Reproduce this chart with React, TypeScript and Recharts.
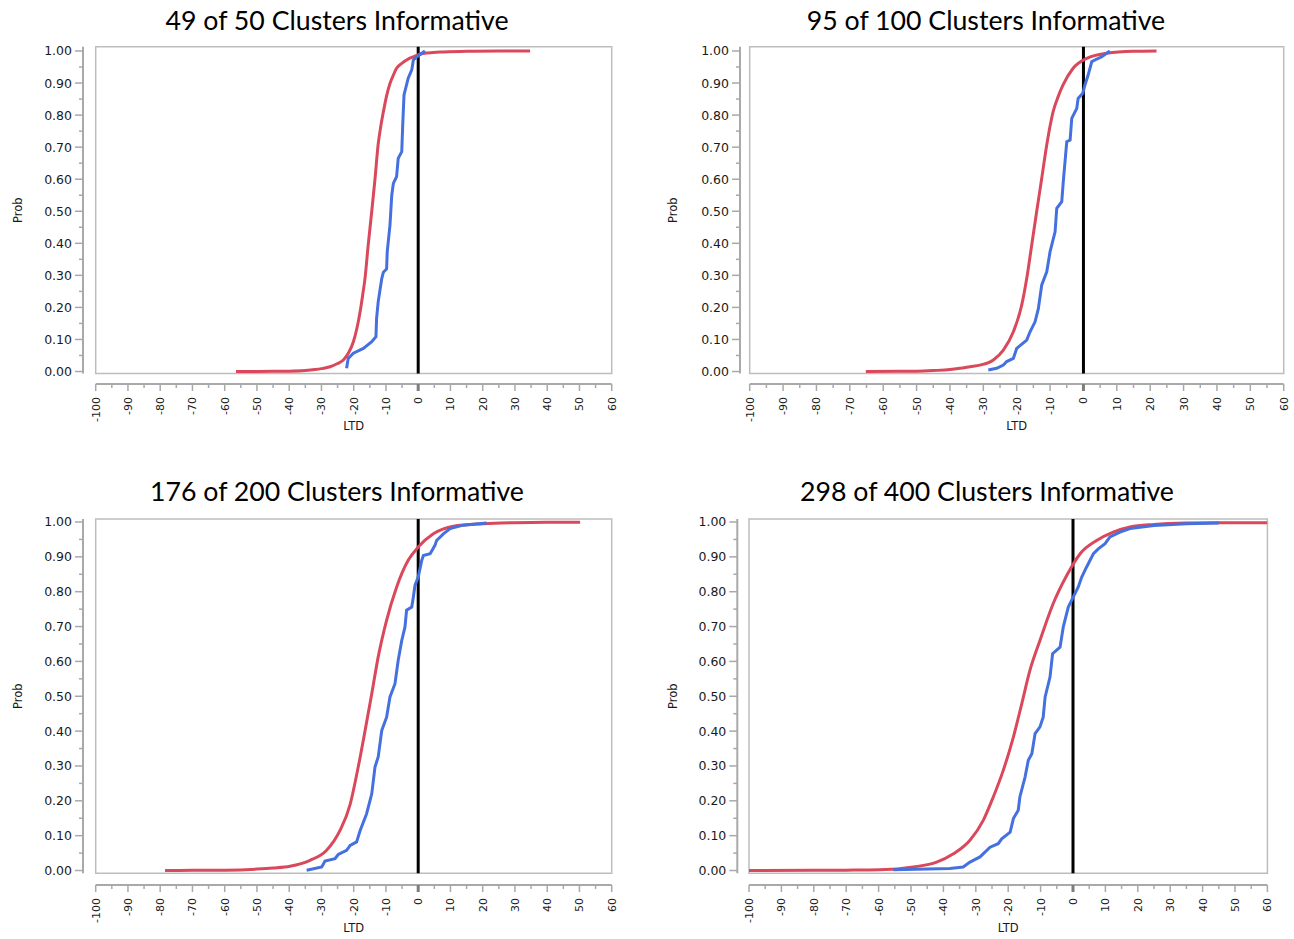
import { LineChart, Line, XAxis, YAxis, ReferenceLine, ReferenceArea, Label } from "recharts"

// tick values (minor ticks every 5 / 0.05, labels on every 10 / 0.10)
const xTicks = [
  -100, -95, -90, -85, -80, -75, -70, -65, -60, -55, -50, -45, -40, -35, -30, -25, -20, -15, -10, -5, 0,
  5, 10, 15, 20, 25, 30, 35, 40, 45, 50, 55, 60,
]
const yTicks = [
  0, 0.05, 0.1, 0.15, 0.2, 0.25, 0.3, 0.35, 0.4, 0.45, 0.5, 0.55, 0.6, 0.65, 0.7, 0.75, 0.8, 0.85, 0.9, 0.95, 1,
]

const titles = [
  "49 of 50 Clusters Informative",
  "95 of 100 Clusters Informative",
  "176 of 200 Clusters Informative",
  "298 of 400 Clusters Informative",
]

// fitted (red) and empirical (blue) CDFs, one pair per panel
const red50 = [
  { x: -56.5, p: 0 }, { x: -45, p: 0.0005 }, { x: -40, p: 0.001 }, { x: -35, p: 0.003 }, { x: -32, p: 0.006 },
  { x: -30, p: 0.009 }, { x: -27.3, p: 0.015 }, { x: -25, p: 0.025 }, { x: -23.2, p: 0.036 }, { x: -21.5, p: 0.06 },
  { x: -20.1, p: 0.093 }, { x: -19, p: 0.135 }, { x: -18, p: 0.187 }, { x: -17.2, p: 0.24 }, { x: -16.5, p: 0.29 },
  { x: -15.5, p: 0.395 }, { x: -14.4, p: 0.5 }, { x: -13.4, p: 0.6 }, { x: -12.4, p: 0.71 }, { x: -11.6, p: 0.765 },
  { x: -10.8, p: 0.81 }, { x: -9.8, p: 0.86 }, { x: -8.7, p: 0.9 }, { x: -7.7, p: 0.925 }, { x: -6.7, p: 0.946 },
  { x: -5, p: 0.962 }, { x: -3.6, p: 0.972 }, { x: -1.5, p: 0.982 }, { x: 0.6, p: 0.99 }, { x: 3, p: 0.994 },
  { x: 6.8, p: 0.997 }, { x: 15, p: 0.999 }, { x: 25, p: 1 }, { x: 34.7, p: 1 },
]
const blue50 = [
  { x: -22.2, p: 0.01 }, { x: -21.7, p: 0.041 }, { x: -20.1, p: 0.057 }, { x: -17, p: 0.072 }, { x: -14.4, p: 0.093 },
  { x: -13.1, p: 0.109 }, { x: -12.9, p: 0.166 }, { x: -12.4, p: 0.218 }, { x: -11.3, p: 0.29 }, { x: -10.8, p: 0.31 },
  { x: -9.8, p: 0.32 }, { x: -9.6, p: 0.374 }, { x: -8.75, p: 0.457 }, { x: -8.2, p: 0.55 }, { x: -7.7, p: 0.587 },
  { x: -6.7, p: 0.608 }, { x: -6.2, p: 0.665 }, { x: -5.1, p: 0.686 }, { x: -4.8, p: 0.769 }, { x: -4.4, p: 0.863 },
  { x: -3.1, p: 0.915 }, { x: -2, p: 0.941 }, { x: -1.5, p: 0.972 }, { x: 0, p: 0.985 }, { x: 2.1, p: 1 },
]

const red100 = [
  { x: -65.2, p: 0 }, { x: -55, p: 0.0005 }, { x: -50, p: 0.001 }, { x: -45, p: 0.003 }, { x: -40, p: 0.006 },
  { x: -37, p: 0.01 }, { x: -34, p: 0.015 }, { x: -31, p: 0.02 }, { x: -27, p: 0.036 }, { x: -24, p: 0.067 },
  { x: -21, p: 0.124 }, { x: -18.5, p: 0.207 }, { x: -17, p: 0.29 }, { x: -15.5, p: 0.395 }, { x: -14, p: 0.5 },
  { x: -12.5, p: 0.603 }, { x: -11, p: 0.707 }, { x: -9.1, p: 0.81 }, { x: -7.5, p: 0.86 }, { x: -6.1, p: 0.894 },
  { x: -3.1, p: 0.946 }, { x: 1, p: 0.977 }, { x: 7, p: 0.993 }, { x: 14.9, p: 0.999 }, { x: 21.9, p: 1 },
]
const blue100 = [
  { x: -28.5, p: 0.005 }, { x: -26, p: 0.01 }, { x: -24, p: 0.02 }, { x: -23, p: 0.031 }, { x: -21, p: 0.041 },
  { x: -20, p: 0.072 }, { x: -17, p: 0.098 }, { x: -16, p: 0.124 }, { x: -14.5, p: 0.155 }, { x: -13.5, p: 0.197 },
  { x: -12.5, p: 0.27 }, { x: -11, p: 0.311 }, { x: -10, p: 0.374 }, { x: -8.5, p: 0.436 }, { x: -8, p: 0.509 },
  { x: -6.5, p: 0.53 }, { x: -6.05, p: 0.592 }, { x: -5, p: 0.717 }, { x: -4, p: 0.722 }, { x: -3.5, p: 0.79 },
  { x: -2, p: 0.821 }, { x: -1.6, p: 0.852 }, { x: -0.2, p: 0.868 }, { x: 0.45, p: 0.894 }, { x: 1.4, p: 0.925 },
  { x: 2.5, p: 0.967 }, { x: 4, p: 0.975 }, { x: 5.5, p: 0.982 }, { x: 7.9, p: 1 },
]

const red200 = [
  { x: -78.5, p: 0 }, { x: -70, p: 0.0005 }, { x: -60, p: 0.001 }, { x: -50, p: 0.004 }, { x: -45, p: 0.007 },
  { x: -39.75, p: 0.012 }, { x: -33.55, p: 0.029 }, { x: -28.4, p: 0.058 }, { x: -24.25, p: 0.115 },
  { x: -21.1, p: 0.19 }, { x: -18.6, p: 0.297 }, { x: -16.5, p: 0.4 }, { x: -14.4, p: 0.507 }, { x: -12.4, p: 0.613 },
  { x: -9.8, p: 0.718 }, { x: -6.7, p: 0.813 }, { x: -3.1, p: 0.89 }, { x: 0, p: 0.928 }, { x: 4.7, p: 0.966 },
  { x: 10.9, p: 0.988 }, { x: 20.2, p: 0.995 }, { x: 30, p: 0.998 }, { x: 40, p: 0.999 }, { x: 50.2, p: 0.999 },
]
const blue200 = [
  { x: -34.6, p: 0.001 }, { x: -29.9, p: 0.01 }, { x: -28.9, p: 0.027 }, { x: -25.8, p: 0.034 }, { x: -24.8, p: 0.046 },
  { x: -22.2, p: 0.058 }, { x: -21.1, p: 0.072 }, { x: -19.1, p: 0.082 }, { x: -18, p: 0.115 }, { x: -16, p: 0.163 },
  { x: -14.4, p: 0.22 }, { x: -13.4, p: 0.297 }, { x: -12.4, p: 0.326 }, { x: -11.3, p: 0.402 }, { x: -9.8, p: 0.44 },
  { x: -8.75, p: 0.498 }, { x: -7.2, p: 0.536 }, { x: -6.2, p: 0.603 }, { x: -5.1, p: 0.66 }, { x: -4.1, p: 0.699 },
  { x: -3.6, p: 0.747 }, { x: -2, p: 0.756 }, { x: -1.5, p: 0.785 }, { x: -1, p: 0.818 }, { x: 0, p: 0.842 },
  { x: 1.1, p: 0.89 }, { x: 1.6, p: 0.904 }, { x: 3.7, p: 0.909 }, { x: 5.2, p: 0.933 }, { x: 5.7, p: 0.947 },
  { x: 7.8, p: 0.966 }, { x: 9.9, p: 0.981 }, { x: 14, p: 0.991 }, { x: 21.2, p: 0.997 },
]

const red400 = [
  { x: -100, p: 0 }, { x: -80, p: 0.0005 }, { x: -70, p: 0.001 }, { x: -59.6, p: 0.002 }, { x: -49.3, p: 0.01 },
  { x: -42.1, p: 0.024 }, { x: -36.9, p: 0.048 }, { x: -31.8, p: 0.087 }, { x: -27.7, p: 0.144 }, { x: -24.6, p: 0.211 },
  { x: -21.5, p: 0.288 }, { x: -18.4, p: 0.383 }, { x: -15.8, p: 0.479 }, { x: -13.3, p: 0.574 }, { x: -10.2, p: 0.66 },
  { x: -6.1, p: 0.766 }, { x: -1.9, p: 0.847 }, { x: 2.2, p: 0.909 }, { x: 7.3, p: 0.947 }, { x: 12.4, p: 0.971 },
  { x: 17.6, p: 0.986 }, { x: 25, p: 0.993 }, { x: 35, p: 0.997 }, { x: 45, p: 0.998 }, { x: 60, p: 0.998 },
]
const blue400 = [
  { x: -55.5, p: 0.002 }, { x: -45, p: 0.004 }, { x: -38, p: 0.006 }, { x: -33.9, p: 0.01 }, { x: -31.8, p: 0.024 },
  { x: -28.7, p: 0.039 }, { x: -25.6, p: 0.067 }, { x: -23.1, p: 0.077 }, { x: -22, p: 0.091 }, { x: -19.4, p: 0.11 },
  { x: -18.4, p: 0.149 }, { x: -16.9, p: 0.173 }, { x: -16.4, p: 0.211 }, { x: -14.8, p: 0.268 }, { x: -13.8, p: 0.316 },
  { x: -12.7, p: 0.335 }, { x: -11.7, p: 0.393 }, { x: -10.2, p: 0.412 }, { x: -9.2, p: 0.44 }, { x: -8.6, p: 0.498 },
  { x: -7.1, p: 0.555 }, { x: -6.3, p: 0.622 }, { x: -4, p: 0.641 }, { x: -3, p: 0.699 }, { x: -1.45, p: 0.756 },
  { x: 0.1, p: 0.785 }, { x: 1.6, p: 0.813 }, { x: 2.7, p: 0.842 }, { x: 4.2, p: 0.871 }, { x: 6.3, p: 0.909 },
  { x: 7.8, p: 0.923 }, { x: 9.9, p: 0.938 }, { x: 11.4, p: 0.957 }, { x: 14.5, p: 0.971 }, { x: 17.6, p: 0.981 },
  { x: 25, p: 0.99 }, { x: 35, p: 0.995 }, { x: 45, p: 0.997 },
]

const RED = "#d9485b"
const BLUE = "#4470e0"
const AXIS = "#a9a9a9"
const FRAME = "#bdbdbd"
const TICK_FONT = "'DejaVu Sans', Verdana, sans-serif"

function XTick(props: any) {
  const { x, y, payload } = props
  const v = payload.value as number
  const major = v % 10 === 0
  const ly = y + 13
  return (
    <g>
      <line
        x1={x}
        x2={x}
        y1={y}
        y2={y + (major ? 7 : 4)}
        stroke={v === 0 ? "#7d7d7d" : AXIS}
        strokeWidth={v === 0 ? 3 : 1.5}
      />
      {major && (
        <text
          x={x}
          y={ly}
          transform={`rotate(-90 ${x} ${ly})`}
          textAnchor="end"
          dy="0.36em"
          fontSize={11}
          fontFamily={TICK_FONT}
          fill="#1a1a1a"
        >
          {v}
        </text>
      )}
    </g>
  )
}

function YTick(props: any) {
  const { x, y, payload } = props
  const v = payload.value as number
  const major = Math.round(v * 100) % 10 === 0
  return (
    <g>
      <line x1={x - (major ? 8 : 4)} x2={x} y1={y} y2={y} stroke={AXIS} strokeWidth={1.5} />
      {major && (
        <text x={x - 11} y={y} textAnchor="end" dy="0.36em" fontSize={12.5} fontFamily={TICK_FONT} fill="#1a1a1a">
          {v.toFixed(2)}
        </text>
      )}
    </g>
  )
}

const panels = [
  {
    title: titles[0], red: red50, blue: blue50, left: 0, top: 0, width: 640, height: 434,
    margin: { top: 46.7, right: 28.3, left: 0, bottom: 0 }, yAxisW: 83, yGap: 12.7, xGap: 10.5,
    yDomain: [-0.0062, 1.0134], titleX: 337, titleY: 20, ltdOffset: 4,
  },
  {
    title: titles[1], red: red100, blue: blue100, left: 655, top: 0, width: 639, height: 434,
    margin: { top: 46.7, right: 10.3, left: 0, bottom: 0 }, yAxisW: 85, yGap: 9.7, xGap: 10.5,
    yDomain: [-0.0062, 1.0134], titleX: 986, titleY: 20, ltdOffset: 4,
  },
  {
    title: titles[2], red: red200, blue: blue200, left: 0, top: 470, width: 640, height: 465,
    margin: { top: 49, right: 28.3, left: 0, bottom: 0 }, yAxisW: 83, yGap: 12.7, xGap: 11.7,
    yDomain: [-0.008, 1.0086], titleX: 337, titleY: 491, ltdOffset: 3,
  },
  {
    title: titles[3], red: red400, blue: blue400, left: 655, top: 470, width: 639, height: 465,
    margin: { top: 49, right: 26.6, left: 0, bottom: 0 }, yAxisW: 82.3, yGap: 11.7, xGap: 11.7,
    yDomain: [-0.008, 1.0086], titleX: 987, titleY: 491, ltdOffset: 3,
  },
]

function Panel({ cfg }: { cfg: (typeof panels)[number] }) {
  const [y0, y1] = cfg.yDomain
  return (
    <>
      <div
        style={{
          position: "absolute",
          left: cfg.titleX - 300,
          top: cfg.titleY - 16,
          width: 600,
          lineHeight: "32px",
          textAlign: "center",
          fontFamily: "Lato, sans-serif",
          fontSize: 26.7,
          color: "#000",
        }}
      >
        {cfg.title}
      </div>
      <div style={{ position: "absolute", left: cfg.left, top: cfg.top }}>
        <LineChart width={cfg.width} height={cfg.height} margin={cfg.margin}>
          {/* spacer axes first so they sit next to the frame */}
          <XAxis xAxisId="gap" type="number" domain={[-100, 60]} height={cfg.xGap} axisLine={false} tick={false} tickLine={false} />
          <XAxis
            xAxisId="main"
            type="number"
            dataKey="x"
            domain={[-100, 60]}
            allowDataOverflow
            ticks={xTicks}
            interval={0}
            height={50}
            tickSize={0}
            tickMargin={0}
            tickLine={false}
            axisLine={{ stroke: AXIS, strokeWidth: 2 }}
            tick={XTick}
          >
            <Label value="LTD" position="insideBottom" offset={cfg.ltdOffset} fontSize={11.5} fontFamily={TICK_FONT} fill="#1a1a1a" />
          </XAxis>
          <YAxis yAxisId="gap" type="number" domain={[y0, y1]} width={cfg.yGap} axisLine={false} tick={false} tickLine={false} />
          <YAxis
            yAxisId="main"
            type="number"
            dataKey="p"
            domain={[y0, y1]}
            allowDataOverflow
            ticks={yTicks}
            interval={0}
            width={cfg.yAxisW}
            tickSize={0}
            tickMargin={0}
            tickLine={false}
            axisLine={{ stroke: AXIS, strokeWidth: 2 }}
            tick={YTick}
          >
            <Label
              value="Prob"
              angle={-90}
              position="insideLeft"
              offset={18}
              fontSize={11.5}
              fontFamily={TICK_FONT}
              fill="#1a1a1a"
              style={{ textAnchor: "middle" }}
            />
          </YAxis>
          <ReferenceArea
            xAxisId="main"
            yAxisId="main"
            x1={-100}
            x2={60}
            y1={y0}
            y2={y1}
            fill="none"
            fillOpacity={0}
            stroke={FRAME}
            strokeWidth={1.5}
          />
          <ReferenceLine xAxisId="main" yAxisId="main" x={0} stroke="#000" strokeWidth={3} />
          <Line
            xAxisId="main"
            yAxisId="main"
            data={cfg.red}
            dataKey="p"
            type="monotone"
            stroke={RED}
            strokeWidth={3}
            dot={false}
            isAnimationActive={false}
          />
          <Line
            xAxisId="main"
            yAxisId="main"
            data={cfg.blue}
            dataKey="p"
            type="linear"
            stroke={BLUE}
            strokeWidth={3}
            dot={false}
            isAnimationActive={false}
          />
        </LineChart>
      </div>
    </>
  )
}

export default function App() {
  return (
    <div style={{ position: "absolute", left: 0, top: 0, width: 1294, height: 939, background: "#fff" }}>
      {panels.map((cfg) => (
        <Panel key={cfg.title} cfg={cfg} />
      ))}
    </div>
  )
}
